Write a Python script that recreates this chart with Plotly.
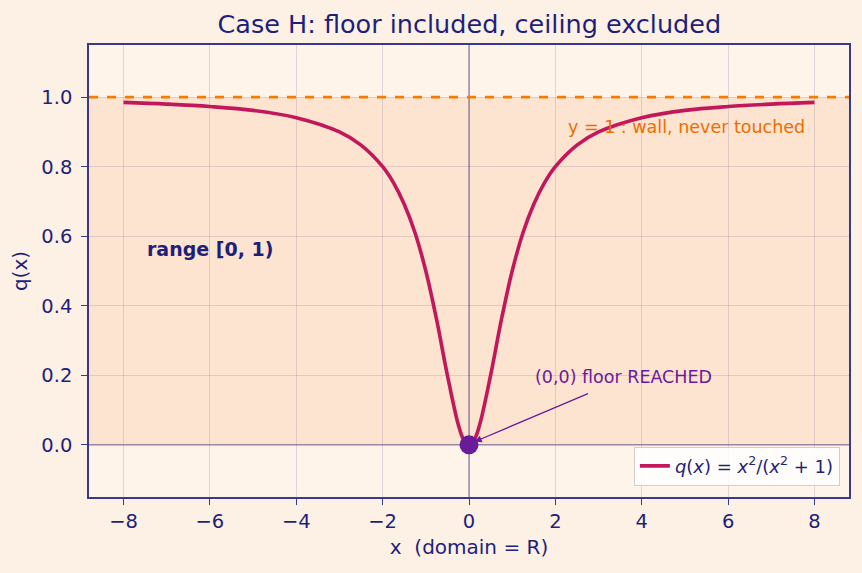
import plotly.graph_objects as go

x_vals = [-8, -7, -6, -5, -4, -3, -2.5, -2, -1.75, -1.5, -1.25, -1, -0.75, -0.5, -0.25, -0.125,
          0, 0.125, 0.25, 0.5, 0.75, 1, 1.25, 1.5, 1.75, 2, 2.5, 3, 4, 5, 6, 7, 8]
q_vals = [0.985, 0.980, 0.973, 0.962, 0.941, 0.900, 0.862, 0.800, 0.754, 0.692, 0.610, 0.500, 0.360, 0.200, 0.059, 0.015,
          0.000, 0.015, 0.059, 0.200, 0.360, 0.500, 0.610, 0.692, 0.754, 0.800, 0.862, 0.900, 0.941, 0.962, 0.973, 0.980, 0.985]
floor_pt = [0, 0]
ceiling_y = 1.0
x_ticks = [-8, -6, -4, -2, 0, 2, 4, 6, 8]
y_ticks = [0.0, 0.2, 0.4, 0.6, 0.8, 1.0]

NAVY = "#1f1f7a"
FONT = "DejaVu Sans"

fig = go.Figure()

fig.add_trace(go.Scatter(
    x=x_vals, y=q_vals, mode="lines", line=dict(color="#c2185b", width=3.6, shape="spline"),
    name="<i>q</i>(<i>x</i>) = <i>x</i><sup>2</sup>/(<i>x</i><sup>2</sup> + 1)",
))
fig.add_trace(go.Scatter(
    x=[floor_pt[0]], y=[floor_pt[1]], mode="markers",
    marker=dict(color="#6a1b9a", size=19), showlegend=False,
))

# band [0, 1)
fig.add_shape(type="rect", xref="paper", yref="y", x0=0, x1=1, y0=0, y1=ceiling_y,
              fillcolor="rgba(250,205,170,0.40)", line=dict(width=0), layer="below")
# ceiling dashed line
fig.add_shape(type="line", xref="paper", yref="y", x0=0, x1=1, y0=ceiling_y, y1=ceiling_y,
              line=dict(color="#f57c00", width=2.6, dash="dash"), layer="above")
# zero lines
fig.add_shape(type="line", xref="paper", yref="y", x0=0, x1=1, y0=0, y1=0,
              line=dict(color="rgba(50,40,120,0.55)", width=1.3), layer="below")
fig.add_shape(type="line", xref="x", yref="paper", x0=0, x1=0, y0=0, y1=1,
              line=dict(color="rgba(50,40,120,0.55)", width=1.3), layer="below")

fig.add_annotation(x=2.25, y=0.914, text="y = 1 : wall, never touched", showarrow=False,
                   xanchor="left", yanchor="middle", font=dict(family=FONT, size=17.5, color="#ef6c00"))
fig.add_annotation(x=-7.5, y=0.563, text="<b>range [0, 1)</b>", showarrow=False,
                   xanchor="left", yanchor="middle", font=dict(family=FONT, size=19, color=NAVY))
fig.add_annotation(x=1.49, y=0.195, text="(0,0) floor REACHED", showarrow=False,
                   xanchor="left", yanchor="middle", font=dict(family=FONT, size=17.5, color="#6a1b9a"))
fig.add_annotation(x=0.13, y=0.009, ax=2.79, ay=0.149, axref="x", ayref="y", xref="x", yref="y",
                   text="", showarrow=True, arrowhead=2, arrowsize=1.1, arrowwidth=1.3,
                   arrowcolor="#6a1b9a")

axis_common = dict(
    showline=True, linecolor="#3a3a8c", linewidth=1.5, mirror=True,
    ticks="outside", ticklen=6, tickwidth=1.2, tickcolor="#3a3a8c",
    gridcolor="rgba(70,60,120,0.16)", gridwidth=1, zeroline=False,
    tickfont=dict(family=FONT, size=19.5, color=NAVY),
)

fig.update_xaxes(range=[-8.8, 8.8], tickvals=x_ticks,
                 ticktext=[("\u2212" + str(abs(v))) if v < 0 else str(v) for v in x_ticks],
                 title=dict(text="x&nbsp;&nbsp;(domain = R)", font=dict(family=FONT, size=20, color=NAVY), standoff=8),
                 **axis_common)
fig.update_yaxes(range=[-0.15, 1.15], tickvals=y_ticks, ticktext=[f"{v:.1f}" for v in y_ticks],
                 title=dict(text="q(x)", font=dict(family=FONT, size=20, color=NAVY), standoff=8),
                 ticklabelstandoff=5,
                 **axis_common)

fig.update_layout(
    width=862, height=573,
    margin=dict(l=89, r=13, t=45, b=76),
    paper_bgcolor="#fdf1e6", plot_bgcolor="#fff4ea",
    title=dict(text="Case H: floor included, ceiling excluded", x=0.5445, xanchor="center",
               y=0.958, yanchor="middle", font=dict(family=FONT, size=25.5, color=NAVY)),
    legend=dict(x=0.988, y=0.025, xanchor="right", yanchor="bottom",
                bgcolor="rgba(255,255,255,0.82)", bordercolor="#cfcfcf", borderwidth=1,
                font=dict(family=FONT, size=18, color=NAVY)),
    showlegend=True,
)

fig.write_html("out.html")
